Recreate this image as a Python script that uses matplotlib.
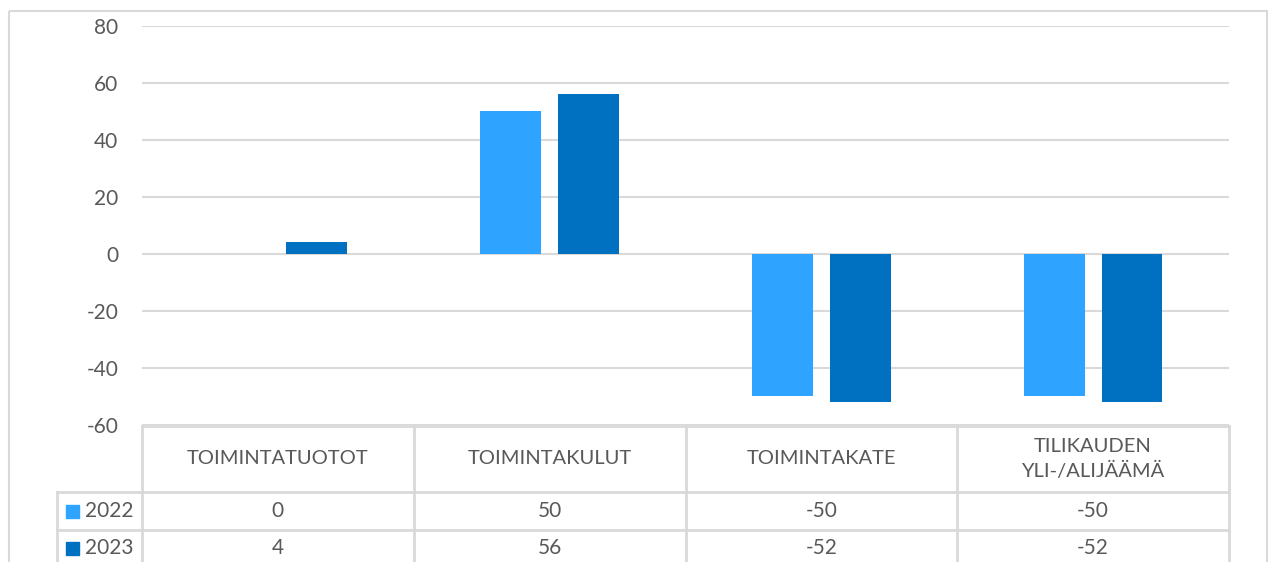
import numpy as np
import matplotlib.pyplot as plt
from matplotlib.lines import Line2D
from matplotlib.patches import Rectangle

categories = ['TOIMINTATUOTOT', 'TOIMINTAKULUT', 'TOIMINTAKATE', 'TILIKAUDEN\nYLI-/ALIJÄÄMÄ']
years = ['2022', '2023']
vals_2022 = [0, 50, -50, -50]
vals_2023 = [4, 56, -52, -52]
colors = ['#2EA3FF', '#0070C0']

W, H = 1271, 562
grid_c = '#D9D9D9'
text_c = '#595959'
plt.rcParams['font.family'] = ['Lato', 'DejaVu Sans']
plt.rcParams['axes.unicode_minus'] = False

fig = plt.figure(figsize=(W / 100, H / 100), dpi=100)

# overlay in pixel coords for border + data table
ov = fig.add_axes([0, 0, 1, 1])
ov.set_xlim(0, W)
ov.set_ylim(H, 0)
ov.axis('off')
ov.add_patch(Rectangle((9, 11), 1258, 600, fill=False, ec=grid_c, lw=1.5))

# main bar axes
left, right, top_px, bot_px = 142, 1229, 25.7, 425
ax = fig.add_axes([left / W, 1 - bot_px / H, (right - left) / W, (bot_px - top_px) / H])
x = np.arange(len(categories))
bw, gap = 0.224, 0.0625
off = (bw + gap) / 2
ax.bar(x - off, vals_2022, bw, color=colors[0], zorder=3)
ax.bar(x + off, vals_2023, bw, color=colors[1], zorder=3)
ax.set_xlim(-0.5, len(categories) - 0.5)
ax.set_ylim(-60, 80)
ax.set_yticks(range(-60, 81, 20))
ax.yaxis.grid(True, color=grid_c, lw=1.5, zorder=0)
ax.set_xticks([])
ax.tick_params(axis='y', length=0, pad=17, labelsize=15, labelcolor=text_c)
for s in ax.spines.values():
    s.set_visible(False)
ax.patch.set_alpha(0)

# data table
col_w = (right - left) / len(categories)
y_head, y_r1, y_r2, y_end = 426, 492, 530, 570
tl = dict(color=grid_c, lw=2)
ov.add_line(Line2D([left, right], [y_head, y_head], **tl))
ov.add_line(Line2D([57, right], [y_r1, y_r1], **tl))
ov.add_line(Line2D([57, right], [y_r2, y_r2], **tl))
ov.add_line(Line2D([57, 57], [y_r1, y_end], **tl))
for i in range(len(categories) + 1):
    xc = left + i * col_w
    ov.add_line(Line2D([xc, xc], [y_head, y_end], **tl))

rows = [vals_2022, vals_2023]
row_mid = [(y_r1 + y_r2) / 2, (y_r2 + 562) / 2 + 2]
for i, cat in enumerate(categories):
    cx = left + (i + 0.5) * col_w
    ov.text(cx, (y_head + y_r1) / 2, cat, ha='center', va='center',
            fontsize=14.5, color=text_c, linespacing=1.45)
    for r in range(2):
        ov.text(cx, row_mid[r], str(rows[r][i]), ha='center', va='center',
                fontsize=15, color=text_c)
for r in range(2):
    ov.add_patch(Rectangle((66, row_mid[r] - 6.5), 13, 13, color=colors[r]))
    ov.text(85, row_mid[r], years[r], ha='left', va='center', fontsize=15, color=text_c)

fig.savefig('out.png', dpi=100)
